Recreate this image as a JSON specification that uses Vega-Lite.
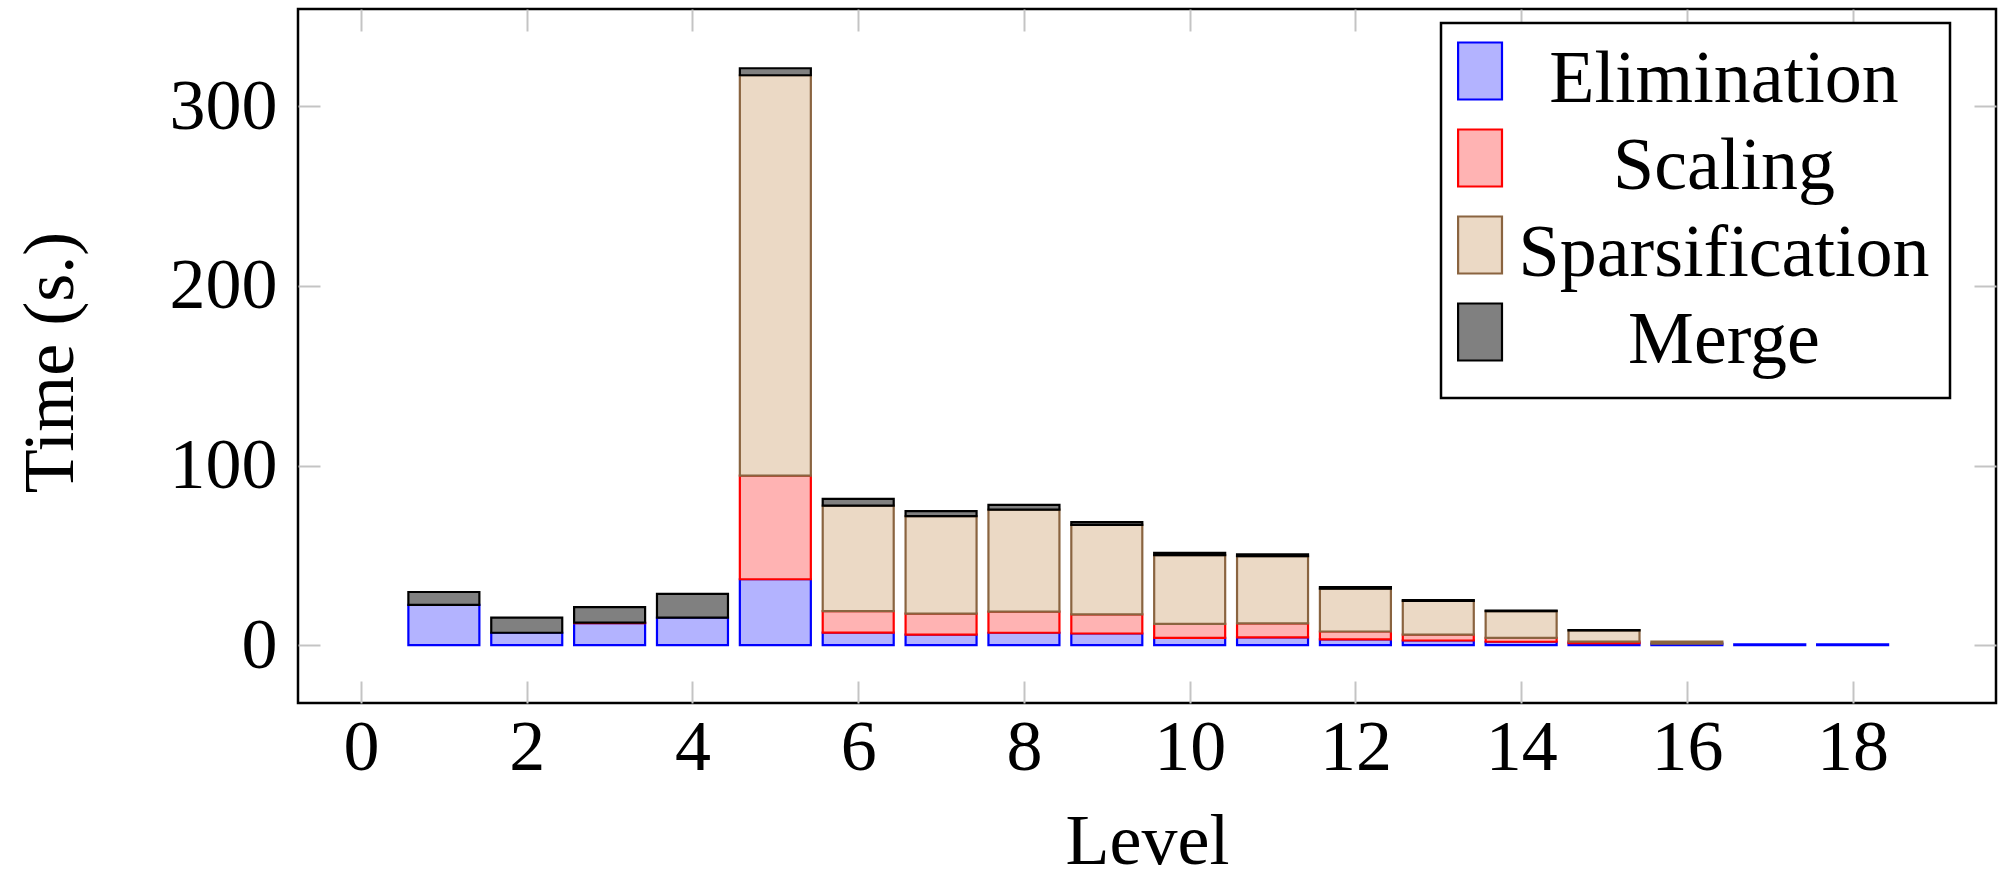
{
  "$schema": "https://vega.github.io/schema/vega-lite/v6.json",
  "width": 1698,
  "height": 694,
  "autosize": "none",
  "padding": {"left": 298, "top": 9, "right": 4, "bottom": 182},
  "background": "white",
  "config": {
    "view": {"stroke": "black", "strokeWidth": 2.5},
    "font": "Liberation Serif",
    "axis": {
      "labelFont": "Liberation Serif",
      "titleFont": "Liberation Serif",
      "labelFontSize": 72,
      "titleFontSize": 72,
      "labelColor": "black",
      "titleColor": "black",
      "titleFontWeight": "normal",
      "domain": false,
      "grid": false,
      "tickColor": "#c4c4c4",
      "tickWidth": 2,
      "tickSize": -22,
      "labelFlush": false,
      "labelOverlap": false
    },
    "legend": {
      "labelFont": "Liberation Serif",
      "labelFontSize": 74,
      "labelColor": "black",
      "strokeColor": "black",
      "strokeWidth": 2.5,
      "fillColor": "white",
      "padding": 20,
      "rowPadding": 8,
      "labelAlign": "center",
      "labelOffset": 189,
      "labelLimit": 0,
      "symbolType": "M-1.4,-1.316H0.14V0.684H-1.4Z",
      "symbolSize": 3249,
      "symbolStrokeWidth": 2.2,
      "symbolOpacity": 1
    }
  },
  "data": {
    "values": [
      {"level": 1, "phase": "Elimination", "k": 1, "time": 22.4},
      {"level": 1, "phase": "Merge", "k": 4, "time": 7.2},
      {"level": 2, "phase": "Elimination", "k": 1, "time": 6.9},
      {"level": 2, "phase": "Merge", "k": 4, "time": 8.4},
      {"level": 3, "phase": "Elimination", "k": 1, "time": 12.3},
      {"level": 3, "phase": "Scaling", "k": 2, "time": 0.3},
      {"level": 3, "phase": "Merge", "k": 4, "time": 8.6},
      {"level": 4, "phase": "Elimination", "k": 1, "time": 15.3},
      {"level": 4, "phase": "Merge", "k": 4, "time": 13.3},
      {"level": 5, "phase": "Elimination", "k": 1, "time": 36.7},
      {"level": 5, "phase": "Scaling", "k": 2, "time": 57.7},
      {"level": 5, "phase": "Sparsification", "k": 3, "time": 222.9},
      {"level": 5, "phase": "Merge", "k": 4, "time": 3.9},
      {"level": 6, "phase": "Elimination", "k": 1, "time": 7.0},
      {"level": 6, "phase": "Scaling", "k": 2, "time": 11.9},
      {"level": 6, "phase": "Sparsification", "k": 3, "time": 58.8},
      {"level": 6, "phase": "Merge", "k": 4, "time": 3.7},
      {"level": 7, "phase": "Elimination", "k": 1, "time": 5.9},
      {"level": 7, "phase": "Scaling", "k": 2, "time": 11.7},
      {"level": 7, "phase": "Sparsification", "k": 3, "time": 54.2},
      {"level": 7, "phase": "Merge", "k": 4, "time": 2.8},
      {"level": 8, "phase": "Elimination", "k": 1, "time": 6.9},
      {"level": 8, "phase": "Scaling", "k": 2, "time": 11.8},
      {"level": 8, "phase": "Sparsification", "k": 3, "time": 56.8},
      {"level": 8, "phase": "Merge", "k": 4, "time": 2.6},
      {"level": 9, "phase": "Elimination", "k": 1, "time": 6.5},
      {"level": 9, "phase": "Scaling", "k": 2, "time": 10.6},
      {"level": 9, "phase": "Sparsification", "k": 3, "time": 49.9},
      {"level": 9, "phase": "Merge", "k": 4, "time": 1.5},
      {"level": 10, "phase": "Elimination", "k": 1, "time": 4.1},
      {"level": 10, "phase": "Scaling", "k": 2, "time": 7.8},
      {"level": 10, "phase": "Sparsification", "k": 3, "time": 38.2},
      {"level": 10, "phase": "Merge", "k": 4, "time": 1.3},
      {"level": 11, "phase": "Elimination", "k": 1, "time": 4.3},
      {"level": 11, "phase": "Scaling", "k": 2, "time": 7.8},
      {"level": 11, "phase": "Sparsification", "k": 3, "time": 37.4},
      {"level": 11, "phase": "Merge", "k": 4, "time": 1.1},
      {"level": 12, "phase": "Elimination", "k": 1, "time": 3.2},
      {"level": 12, "phase": "Scaling", "k": 2, "time": 4.4},
      {"level": 12, "phase": "Sparsification", "k": 3, "time": 23.8},
      {"level": 12, "phase": "Merge", "k": 4, "time": 0.9},
      {"level": 13, "phase": "Elimination", "k": 1, "time": 2.6},
      {"level": 13, "phase": "Scaling", "k": 2, "time": 3.3},
      {"level": 13, "phase": "Sparsification", "k": 3, "time": 18.8},
      {"level": 13, "phase": "Merge", "k": 4, "time": 0.4},
      {"level": 14, "phase": "Elimination", "k": 1, "time": 1.9},
      {"level": 14, "phase": "Scaling", "k": 2, "time": 2.2},
      {"level": 14, "phase": "Sparsification", "k": 3, "time": 14.8},
      {"level": 14, "phase": "Merge", "k": 4, "time": 0.3},
      {"level": 15, "phase": "Elimination", "k": 1, "time": 1.1},
      {"level": 15, "phase": "Scaling", "k": 2, "time": 0.9},
      {"level": 15, "phase": "Sparsification", "k": 3, "time": 6.2},
      {"level": 15, "phase": "Merge", "k": 4, "time": 0.2},
      {"level": 16, "phase": "Elimination", "k": 1, "time": 0.9},
      {"level": 16, "phase": "Sparsification", "k": 3, "time": 1.1},
      {"level": 17, "phase": "Elimination", "k": 1, "time": 0.4},
      {"level": 18, "phase": "Elimination", "k": 1, "time": 0.4}
    ]
  },
  "layer": [
    {
      "mark": {"type": "bar", "size": 71, "strokeWidth": 2.2},
      "encoding": {
        "x": {
          "field": "level", "type": "quantitative",
          "scale": {"domain": [-0.7, 19.67], "nice": false, "zero": false},
          "axis": {
            "orient": "bottom", "values": [0, 2, 4, 6, 8, 10, 12, 14, 16, 18],
            "title": "Level", "labelPadding": 31,
            "titleX": 849, "titleY": 160, "titleBaseline": "alphabetic", "titleAlign": "center"
          }
        },
        "y": {
          "field": "time", "type": "quantitative", "stack": "zero",
          "scale": {"domain": [-32.2, 354.2], "nice": false, "zero": false},
          "axis": {
            "orient": "left", "values": [0, 100, 200, 300],
            "title": "Time (s.)", "labelPadding": 43,
            "titleAngle": -90, "titleX": -226, "titleY": 353,
            "titleBaseline": "alphabetic", "titleAlign": "center"
          }
        },
        "fill": {
          "field": "phase", "type": "nominal",
          "scale": {"domain": ["Elimination", "Scaling", "Sparsification", "Merge"], "range": ["#b3b3ff", "#ffb3b3", "#ebd9c5", "#808080"]},
          "legend": {"title": null, "orient": "none", "legendX": 1143, "legendY": 14}
        },
        "stroke": {
          "field": "phase", "type": "nominal",
          "scale": {"domain": ["Elimination", "Scaling", "Sparsification", "Merge"], "range": ["#0000ff", "#ff0000", "#8a6440", "#000000"]},
          "legend": {"title": null, "orient": "none", "legendX": 1143, "legendY": 14}
        },
        "order": {"field": "k", "type": "quantitative"}
      }
    },
    {
      "mark": {"type": "bar", "size": 71, "opacity": 0},
      "encoding": {
        "x": {
          "field": "level", "type": "quantitative",
          "scale": {"domain": [-0.7, 19.67], "nice": false, "zero": false},
          "axis": {"orient": "top", "values": [0, 2, 4, 6, 8, 10, 12, 14, 16, 18], "labels": false, "title": null}
        },
        "y": {
          "field": "time", "type": "quantitative",
          "scale": {"domain": [-32.2, 354.2], "nice": false, "zero": false},
          "axis": {"orient": "right", "values": [0, 100, 200, 300], "labels": false, "title": null}
        }
      }
    }
  ],
  "resolve": {"axis": {"x": "independent", "y": "independent"}}
}
